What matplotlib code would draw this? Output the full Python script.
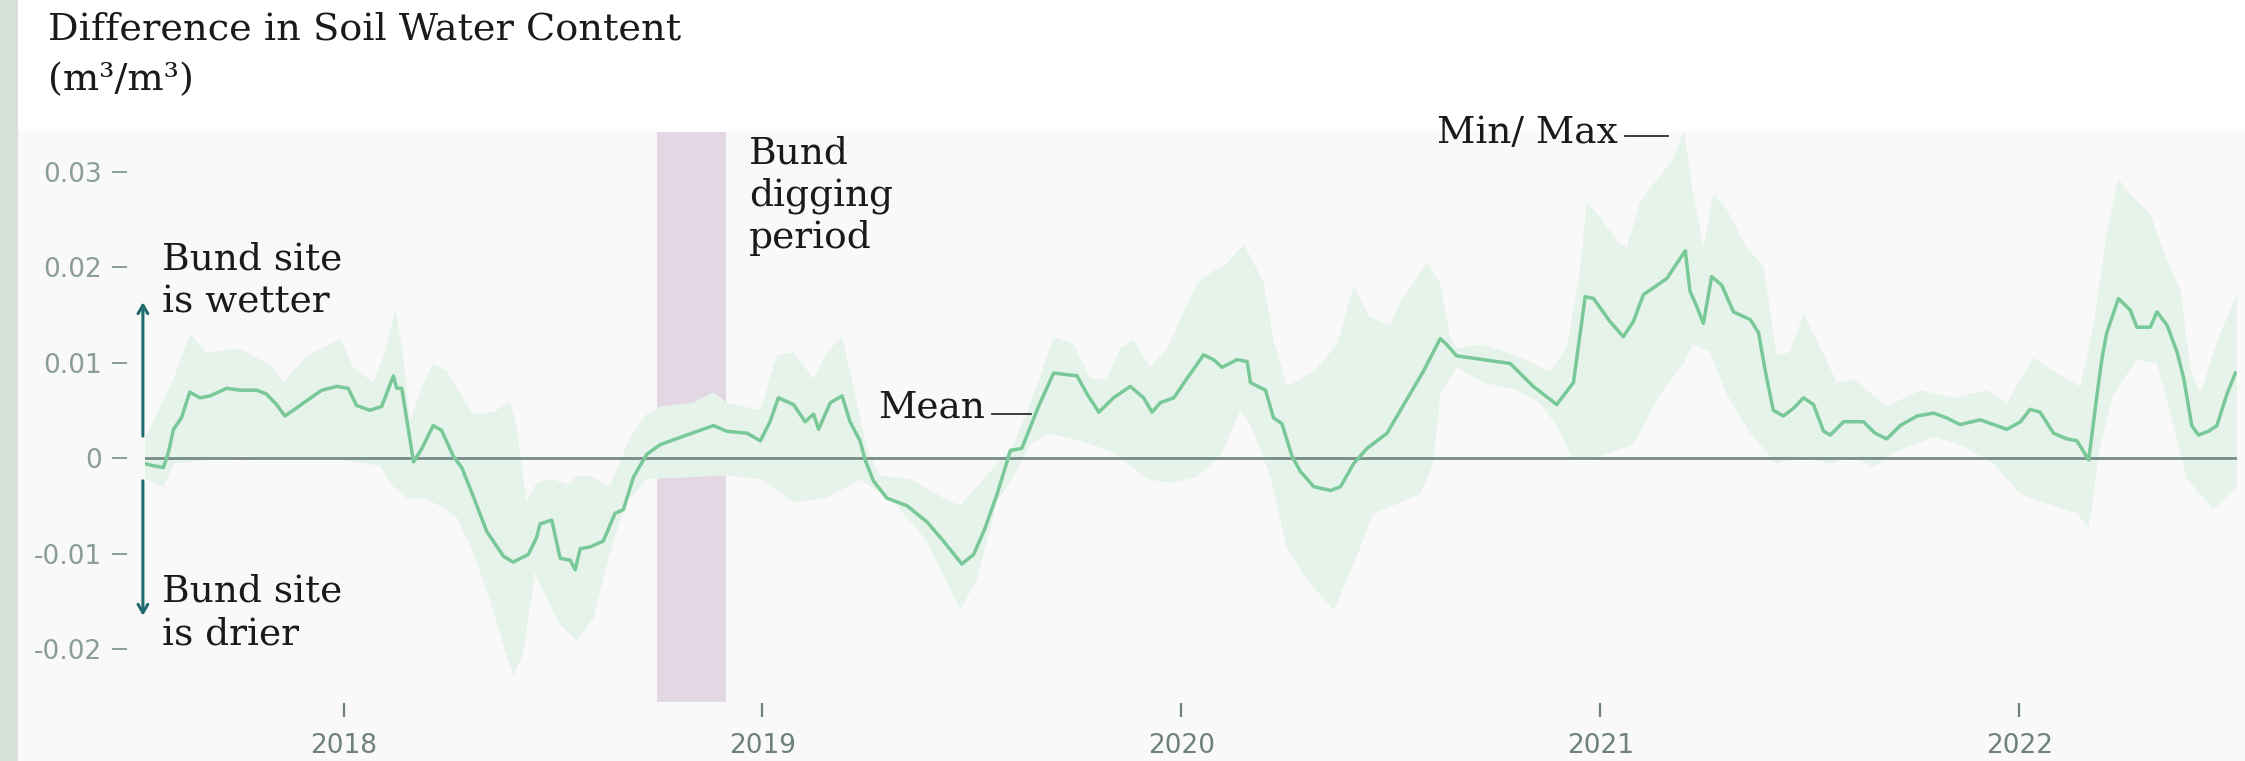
import numpy as np
import matplotlib
matplotlib.use("Agg")
import matplotlib.pyplot as plt
from matplotlib.lines import Line2D
from matplotlib.patches import Rectangle

W, H = 2245, 761
DPI = 100

###############################################################################
# Data: difference in soil water content (bund site minus control), m3/m3
# x values are decimal years

mean_year = [2017.526, 2017.546, 2017.570, 2017.582, 2017.594, 2017.613, 2017.633, 2017.657,
             2017.681, 2017.721, 2017.753, 2017.793, 2017.816, 2017.840, 2017.860, 2017.880,
             2017.912, 2017.948, 2017.984, 2018.011, 2018.031, 2018.063, 2018.091, 2018.119,
             2018.127, 2018.139, 2018.167, 2018.187, 2018.214, 2018.234, 2018.262, 2018.282,
             2018.306, 2018.342, 2018.382, 2018.405, 2018.441, 2018.461, 2018.469, 2018.497,
             2018.517, 2018.541, 2018.553, 2018.565, 2018.589, 2018.620, 2018.648, 2018.668,
             2018.692, 2018.724, 2018.756, 2018.819, 2018.883, 2018.915, 2018.963, 2018.995,
             2019.018, 2019.038, 2019.074, 2019.102, 2019.122, 2019.134, 2019.162, 2019.190,
             2019.209, 2019.233, 2019.245, 2019.265, 2019.297, 2019.345, 2019.393, 2019.432,
             2019.476, 2019.504, 2019.530, 2019.560, 2019.592, 2019.619, 2019.659, 2019.695,
             2019.751, 2019.775, 2019.803, 2019.838, 2019.878, 2019.910, 2019.930, 2019.950,
             2019.982, 2020.013, 2020.053, 2020.077, 2020.097, 2020.133, 2020.157, 2020.165,
             2020.201, 2020.220, 2020.240, 2020.264, 2020.284, 2020.316, 2020.356, 2020.380,
             2020.411, 2020.443, 2020.491, 2020.523, 2020.578, 2020.618, 2020.633, 2020.657,
             2020.721, 2020.785, 2020.840, 2020.896, 2020.936, 2020.964, 2020.984, 2021.023,
             2021.055, 2021.079, 2021.103, 2021.159, 2021.183, 2021.203, 2021.214, 2021.230,
             2021.246, 2021.266, 2021.290, 2021.318, 2021.358, 2021.378, 2021.394, 2021.413,
             2021.437, 2021.461, 2021.485, 2021.509, 2021.533, 2021.549, 2021.581, 2021.628,
             2021.656, 2021.684, 2021.716, 2021.756, 2021.796, 2021.827, 2021.859, 2021.907,
             2021.971, 2022.003, 2022.026, 2022.050, 2022.082, 2022.114, 2022.138, 2022.166,
             2022.186, 2022.198, 2022.209, 2022.237, 2022.265, 2022.281, 2022.313, 2022.329,
             2022.353, 2022.377, 2022.393, 2022.412, 2022.428, 2022.452, 2022.472, 2022.496,
             2022.516]
mean_val = [-0.0006, -0.0008, -0.0010, 0.0006, 0.0030, 0.0042, 0.0069, 0.0063,
            0.0065, 0.0073, 0.0071, 0.0071, 0.0067, 0.0056, 0.0044, 0.0050,
            0.0060, 0.0071, 0.0075, 0.0073, 0.0055, 0.0050, 0.0054, 0.0086,
            0.0073, 0.0073, -0.0004, 0.0010, 0.0034, 0.0029, 0.0002, -0.0010,
            -0.0036, -0.0077, -0.0103, -0.0109, -0.0101, -0.0083, -0.0069, -0.0065,
            -0.0105, -0.0107, -0.0117, -0.0095, -0.0093, -0.0087, -0.0058, -0.0054,
            -0.0020, 0.0004, 0.0014, 0.0024, 0.0034, 0.0028, 0.0026, 0.0018,
            0.0038, 0.0063, 0.0056, 0.0038, 0.0046, 0.0030, 0.0058, 0.0065,
            0.0038, 0.0018, -0.0002, -0.0024, -0.0042, -0.0050, -0.0067, -0.0087,
            -0.0111, -0.0101, -0.0075, -0.0038, 0.0008, 0.0010, 0.0054, 0.0089,
            0.0086, 0.0067, 0.0048, 0.0063, 0.0075, 0.0063, 0.0048, 0.0058,
            0.0063, 0.0083, 0.0108, 0.0103, 0.0095, 0.0103, 0.0101, 0.0079,
            0.0071, 0.0042, 0.0036, 0.0002, -0.0014, -0.0030, -0.0034, -0.0030,
            -0.0006, 0.0010, 0.0026, 0.0050, 0.0091, 0.0125, 0.0119, 0.0107,
            0.0103, 0.0099, 0.0075, 0.0056, 0.0079, 0.0169, 0.0167, 0.0143,
            0.0127, 0.0143, 0.0171, 0.0188, 0.0204, 0.0217, 0.0175, 0.0159,
            0.0141, 0.0190, 0.0181, 0.0153, 0.0145, 0.0131, 0.0091, 0.0050,
            0.0044, 0.0052, 0.0063, 0.0056, 0.0028, 0.0024, 0.0038, 0.0038,
            0.0026, 0.0020, 0.0034, 0.0044, 0.0047, 0.0042, 0.0035, 0.0040,
            0.0030, 0.0038, 0.0051, 0.0048, 0.0026, 0.0020, 0.0018, -0.0002,
            0.0067, 0.0105, 0.0131, 0.0167, 0.0155, 0.0137, 0.0137, 0.0153,
            0.0139, 0.0111, 0.0083, 0.0034, 0.0024, 0.0028, 0.0034, 0.0067,
            0.0089]

max_year = [2017.526, 2017.594, 2017.633, 2017.673, 2017.753, 2017.832, 2017.856, 2017.912,
            2017.992, 2018.023, 2018.071, 2018.103, 2018.123, 2018.143, 2018.159, 2018.191,
            2018.214, 2018.246, 2018.278, 2018.310, 2018.358, 2018.397, 2018.413, 2018.437,
            2018.461, 2018.493, 2018.541, 2018.557, 2018.597, 2018.636, 2018.684, 2018.724,
            2018.756, 2018.835, 2018.883, 2018.915, 2018.995, 2019.034, 2019.074, 2019.122,
            2019.154, 2019.190, 2019.217, 2019.249, 2019.281, 2019.353, 2019.432, 2019.472,
            2019.512, 2019.600, 2019.655, 2019.695, 2019.743, 2019.783, 2019.822, 2019.854,
            2019.886, 2019.926, 2019.966, 2020.037, 2020.077, 2020.109, 2020.149, 2020.197,
            2020.220, 2020.252, 2020.316, 2020.372, 2020.411, 2020.451, 2020.499, 2020.522,
            2020.586, 2020.618, 2020.641, 2020.657, 2020.721, 2020.801, 2020.880, 2020.920,
            2020.952, 2020.968, 2020.999, 2021.039, 2021.063, 2021.095, 2021.143, 2021.175,
            2021.199, 2021.222, 2021.246, 2021.270, 2021.302, 2021.350, 2021.390, 2021.421,
            2021.453, 2021.485, 2021.517, 2021.565, 2021.605, 2021.684, 2021.764, 2021.843,
            2021.923, 2021.971, 2022.034, 2022.082, 2022.146, 2022.178, 2022.209, 2022.237,
            2022.265, 2022.313, 2022.345, 2022.385, 2022.408, 2022.432, 2022.480, 2022.520]
max_val = [0.0020, 0.0083, 0.0130, 0.0110, 0.0115, 0.0095, 0.0079, 0.0107,
           0.0125, 0.0095, 0.0079, 0.0115, 0.0155, 0.0107, 0.0038, 0.0079,
           0.0099, 0.0091, 0.0067, 0.0046, 0.0048, 0.0060, 0.0034, -0.0046,
           -0.0026, -0.0022, -0.0028, -0.0018, -0.0020, -0.0030, 0.0022, 0.0046,
           0.0054, 0.0058, 0.0069, 0.0058, 0.0050, 0.0107, 0.0111, 0.0083,
           0.0111, 0.0127, 0.0075, 0.0010, -0.0018, -0.0022, -0.0042, -0.0050,
           -0.0030, 0.0014, 0.0075, 0.0127, 0.0119, 0.0083, 0.0083, 0.0115,
           0.0123, 0.0095, 0.0115, 0.0183, 0.0196, 0.0204, 0.0224, 0.0183,
           0.0123, 0.0075, 0.0091, 0.0119, 0.0179, 0.0147, 0.0139, 0.0163,
           0.0204, 0.0183, 0.0127, 0.0115, 0.0119, 0.0107, 0.0091, 0.0115,
           0.0196, 0.0268, 0.0252, 0.0228, 0.0220, 0.0268, 0.0296, 0.0313,
           0.0345, 0.0276, 0.0220, 0.0276, 0.0260, 0.0220, 0.0200, 0.0107,
           0.0111, 0.0151, 0.0123, 0.0079, 0.0083, 0.0054, 0.0071, 0.0063,
           0.0071, 0.0058, 0.0105, 0.0091, 0.0075, 0.0139, 0.0236, 0.0292,
           0.0276, 0.0256, 0.0216, 0.0175, 0.0095, 0.0067, 0.0131, 0.0171]

min_year = [2017.526, 2017.570, 2017.594, 2017.633, 2017.753, 2017.832, 2017.992, 2018.087,
            2018.119, 2018.151, 2018.191, 2018.230, 2018.270, 2018.310, 2018.350, 2018.390,
            2018.405, 2018.429, 2018.457, 2018.485, 2018.517, 2018.557, 2018.597, 2018.620,
            2018.644, 2018.676, 2018.724, 2018.835, 2018.915, 2018.995, 2019.074, 2019.154,
            2019.233, 2019.313, 2019.393, 2019.472, 2019.512, 2019.560, 2019.600, 2019.639,
            2019.687, 2019.759, 2019.838, 2019.918, 2019.974, 2020.037, 2020.093, 2020.141,
            2020.165, 2020.212, 2020.252, 2020.300, 2020.364, 2020.411, 2020.459, 2020.547,
            2020.570, 2020.602, 2020.618, 2020.657, 2020.721, 2020.801, 2020.856, 2020.896,
            2020.936, 2020.999, 2021.079, 2021.143, 2021.199, 2021.222, 2021.262, 2021.302,
            2021.358, 2021.421, 2021.477, 2021.549, 2021.605, 2021.652, 2021.700, 2021.796,
            2021.859, 2021.939, 2022.003, 2022.082, 2022.138, 2022.166, 2022.194, 2022.225,
            2022.281, 2022.329, 2022.369, 2022.401, 2022.464, 2022.520]
min_val = [-0.0022, -0.0030, -0.0006, -0.0004, 0.0002, 0.0000, -0.0002, -0.0008,
           -0.0030, -0.0042, -0.0042, -0.0050, -0.0062, -0.0099, -0.0150, -0.0208,
           -0.0228, -0.0204, -0.0119, -0.0147, -0.0175, -0.0192, -0.0167, -0.0127,
           -0.0087, -0.0046, -0.0022, -0.0020, -0.0018, -0.0022, -0.0046, -0.0042,
           -0.0022, -0.0046, -0.0087, -0.0159, -0.0127, -0.0046, -0.0018, 0.0014,
           0.0026, 0.0018, 0.0006, -0.0022, -0.0026, -0.0020, 0.0002, 0.0050,
           0.0034, -0.0018, -0.0095, -0.0127, -0.0159, -0.0111, -0.0058, -0.0042,
           -0.0038, -0.0006, 0.0067, 0.0095, 0.0079, 0.0071, 0.0058, 0.0034,
           -0.0002, 0.0002, 0.0014, 0.0067, 0.0099, 0.0119, 0.0111, 0.0067,
           0.0026, -0.0006, 0.0002, -0.0006, 0.0002, -0.0010, 0.0006, 0.0022,
           0.0014, -0.0006, -0.0038, -0.0050, -0.0058, -0.0073, 0.0014, 0.0067,
           0.0103, 0.0099, 0.0034, -0.0022, -0.0054, -0.0030]

dig_period = (2018.749, 2018.914)   # Oct - Nov 2018

y_ticks = [0.03, 0.02, 0.01, 0, -0.01, -0.02]
y_labels = ['0.03', '0.02', '0.01', '0', '-0.01', '-0.02']
x_ticks = [2018, 2019, 2020, 2021, 2022]
x_labels = ['2018', '2019', '2020', '2021', '2022']

###############################################################################

MEAN_C = '#79c898'
BAND_C = '#e5f3ea'
DIG_C = '#e4d7e4'
ZERO_C = '#778c88'
TICK_C = '#8b9d99'
ARROW_C = '#1f6b6d'
TXT_C = '#1a1a1a'
SERIF = 'DejaVu Serif'
FS = 27

fig = plt.figure(figsize=(W / DPI, H / DPI), dpi=DPI)
fig.patch.set_facecolor('white')

# left strip and light plot panel
fig.add_artist(Rectangle((0, 0), 18 / W, 1, transform=fig.transFigure,
                         color='#d6e0d9', lw=0, zorder=-2))
fig.add_artist(Rectangle((18 / W, 0), 1, (H - 131) / H, transform=fig.transFigure,
                         color='#f9f9f9', lw=0, zorder=-2))

ax = fig.add_axes([145 / W, (H - 702) / H, (2237 - 145) / W, 570 / H])
ax.set_facecolor('none')
ax.set_xlim(2017.526, 2022.52)
ax.set_ylim(-0.02555, 0.03414)

ax.axvspan(*dig_period, color=DIG_C, lw=0, zorder=1)

band_x = np.r_[max_year, min_year[::-1]]
band_y = np.r_[max_val, min_val[::-1]]
ax.fill(band_x, band_y, color=BAND_C, lw=0, zorder=2)

ax.axhline(0, color=ZERO_C, lw=2.0, zorder=3)
ax.plot(mean_year, mean_val, color=MEAN_C, lw=2.5, zorder=4, solid_joinstyle='round')

for s in ax.spines.values():
    s.set_visible(False)
ax.spines['left'].set_position(('outward', 13))
ax.spines['bottom'].set_position(('outward', 1))

ax.set_yticks(y_ticks)
ax.set_yticklabels(y_labels)
ax.tick_params(axis='y', direction='out', length=10.8, width=1.4, color=TICK_C,
               labelcolor=TICK_C, labelsize=19, pad=7)
ax.set_xticks(x_ticks)
ax.set_xticklabels(x_labels)
ax.tick_params(axis='x', direction='out', length=10, width=1.6, color='#6f817d',
               labelcolor='#6f817d', labelsize=19, pad=11)

# arrows: wetter / drier
arr = dict(arrowstyle='->,head_length=0.6,head_width=0.35', color=ARROW_C, lw=2.2)
ax.annotate('', xy=(2017.521, 0.0166), xytext=(2017.521, 0.0020),
            arrowprops=arr, annotation_clip=False)
ax.annotate('', xy=(2017.521, -0.0168), xytext=(2017.521, -0.0021),
            arrowprops=arr, annotation_clip=False)

# texts
fig.text(48 / W, 1 - 30 / H, 'Difference in Soil Water Content', family=SERIF,
         fontsize=27.5, color=TXT_C, va='center', ha='left')
fig.text(48 / W, 1 - 80 / H, '(m³/m³)', family=SERIF,
         fontsize=27.5, color=TXT_C, va='center', ha='left')

fig.text(162 / W, 1 - 281 / H, 'Bund site\nis wetter', family=SERIF, fontsize=FS,
         color=TXT_C, va='center', ha='left', linespacing=1.22)
fig.text(162 / W, 1 - 613 / H, 'Bund site\nis drier', family=SERIF, fontsize=FS,
         color=TXT_C, va='center', ha='left', linespacing=1.22)
fig.text(749 / W, 1 - 196 / H, 'Bund\ndigging\nperiod', family=SERIF, fontsize=FS,
         color=TXT_C, va='center', ha='left', linespacing=1.22)

fig.text(985 / W, 1 - 408 / H, 'Mean', family=SERIF, fontsize=FS,
         color=TXT_C, va='center', ha='right')
fig.add_artist(Line2D([992 / W, 1031 / W], [1 - 414 / H, 1 - 414 / H],
                      transform=fig.transFigure, color=TXT_C, lw=1.2))
fig.text(1618 / W, 1 - 133 / H, 'Min/ Max', family=SERIF, fontsize=FS,
         color=TXT_C, va='center', ha='right')
fig.add_artist(Line2D([1625 / W, 1668 / W], [1 - 136 / H, 1 - 136 / H],
                      transform=fig.transFigure, color=TXT_C, lw=1.2))

fig.savefig('out.png', dpi=DPI)
